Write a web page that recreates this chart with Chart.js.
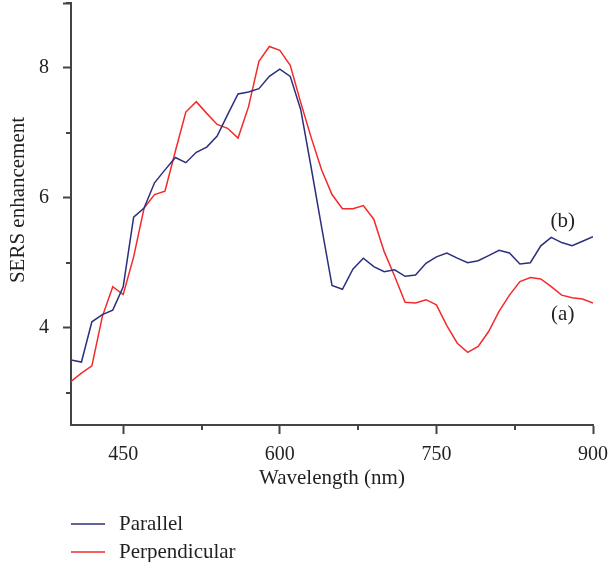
<!DOCTYPE html>
<html><head><meta charset="utf-8">
<script src="https://cdn.jsdelivr.net/npm/chart.js@4.4.1/dist/chart.umd.min.js"></script>
<style>html,body{margin:0;padding:0;background:#fff;} canvas{display:block;}</style>
</head><body>
<canvas id="c" width="608" height="562"></canvas>
<script>
const WAVELENGTHS = [400,410,420,430,440,450,460,470,480,490,500,510,520,530,540,550,560,570,580,590,600,610,620,630,640,650,660,670,680,690,700,710,720,730,740,750,760,770,780,790,800,810,820,830,840,850,860,870,880,890,900];
const PARALLEL = [3.50,3.47,4.09,4.20,4.27,4.63,5.70,5.84,6.23,6.43,6.62,6.54,6.70,6.78,6.95,7.28,7.60,7.63,7.68,7.87,7.98,7.87,7.36,6.47,5.55,4.65,4.59,4.90,5.07,4.94,4.86,4.89,4.79,4.81,4.99,5.09,5.15,5.07,5.00,5.03,5.11,5.19,5.15,4.98,5.00,5.26,5.39,5.31,5.26,5.33,5.40];
const PERPENDICULAR = [3.17,3.30,3.41,4.17,4.63,4.51,5.09,5.84,6.05,6.10,6.72,7.32,7.48,7.30,7.13,7.07,6.92,7.40,8.10,8.33,8.27,8.04,7.47,6.93,6.43,6.05,5.83,5.83,5.88,5.67,5.17,4.79,4.39,4.38,4.43,4.35,4.03,3.76,3.62,3.71,3.94,4.25,4.50,4.71,4.77,4.75,4.63,4.50,4.46,4.44,4.38];
const SERIES_NAMES = ['Parallel','Perpendicular'];
const X_TICKS = [450,525,600,675,750,825,900];
const X_LABELED = [450,600,750,900];
const Y_TICKS = [3,4,5,6,7,8,9];
const Y_LABELED = [4,6,8];
const CURVE_TAGS = ['(b)','(a)'];
const CURVE_TAG_X = [871,871];
const CURVE_TAG_Y = [5.63,4.20];

const FONT = "'Liberation Serif', 'Times New Roman', serif";
const AXIS = '#444444';
const TEXT = '#231f20';
const COLORS = ['#2c2f7c','#f42a2a'];

const extras = {
  id: 'extras',
  afterDraw(chart) {
    const ctx = chart.ctx;
    const xs = chart.scales.x, ys = chart.scales.y;
    const area = chart.chartArea;
    ctx.save();
    ctx.strokeStyle = AXIS; ctx.lineWidth = 2;
    X_TICKS.filter(v => !X_LABELED.includes(v)).forEach(v => {
      const p = Math.round(xs.getPixelForValue(v));
      ctx.beginPath(); ctx.moveTo(p, area.bottom); ctx.lineTo(p, area.bottom + 5); ctx.stroke();
    });
    Y_TICKS.filter(v => !Y_LABELED.includes(v)).forEach(v => {
      const p = Math.round(ys.getPixelForValue(v));
      ctx.beginPath(); ctx.moveTo(area.left, p); ctx.lineTo(area.left - 5, p); ctx.stroke();
    });
    ctx.fillStyle = TEXT;
    ctx.font = '21px ' + FONT;
    ctx.textAlign = 'center'; ctx.textBaseline = 'middle';
    CURVE_TAGS.forEach((t, i) => {
      ctx.fillText(t, xs.getPixelForValue(CURVE_TAG_X[i]), ys.getPixelForValue(CURVE_TAG_Y[i]));
    });
    ctx.save();
    ctx.translate(18, 200);
    ctx.rotate(-Math.PI / 2);
    ctx.fillText('SERS enhancement', 0, 0);
    ctx.restore();
    ctx.textAlign = 'left';
    chart.data.datasets.forEach((ds, i) => {
      const y = 524 + i * 28;
      ctx.strokeStyle = ds.borderColor; ctx.lineWidth = 1.5;
      ctx.beginPath(); ctx.moveTo(71, y); ctx.lineTo(105, y); ctx.stroke();
      ctx.fillStyle = TEXT;
      ctx.fillText(ds.label, 119, y);
    });
    ctx.restore();
  }
};

new Chart(document.getElementById('c'), {
  type: 'line',
  data: {
    datasets: [PARALLEL, PERPENDICULAR].map((arr, i) => ({
      label: SERIES_NAMES[i],
      data: WAVELENGTHS.map((w, j) => ({x: w, y: arr[j]})),
      borderColor: COLORS[i],
      borderWidth: 1.5,
      pointRadius: 0,
      tension: 0,
      fill: false
    }))
  },
  options: {
    responsive: false,
    devicePixelRatio: 1,
    animation: false,
    layout: {padding: {top: 3, right: 15, bottom: 0, left: 0}},
    plugins: {legend: {display: false}, tooltip: {enabled: false}},
    scales: {
      x: {
        type: 'linear', min: 400, max: 900,
        afterBuildTicks: s => { s.ticks = X_TICKS.map(v => ({value: v})); },
        afterFit: s => { s.height = 137; s.paddingLeft = 0; s.paddingRight = 0; },
        grid: {drawOnChartArea: false, tickLength: 9, tickWidth: 2,
               tickColor: c => X_LABELED.includes(c.tick && c.tick.value) ? AXIS : 'rgba(0,0,0,0)'},
        border: {color: AXIS, width: 2},
        ticks: {autoSkip: false, maxRotation: 0, padding: 9, color: TEXT,
                font: {family: FONT, size: 20},
                callback: v => X_LABELED.includes(v) ? String(v) : ''},
        title: {display: true, text: 'Wavelength (nm)', color: TEXT,
                font: {family: FONT, size: 21}, padding: {top: 0, bottom: 71}}
      },
      y: {
        type: 'linear', min: 2.5, max: 9,
        afterBuildTicks: s => { s.ticks = Y_TICKS.map(v => ({value: v})); },
        afterFit: s => { s.width = 71; s.paddingTop = 0; s.paddingBottom = 0; },
        grid: {drawOnChartArea: false, tickLength: 8, tickWidth: 2,
               tickColor: c => Y_LABELED.includes(c.tick && c.tick.value) || (c.tick && c.tick.value === 9) ? AXIS : 'rgba(0,0,0,0)'},
        border: {color: AXIS, width: 2},
        ticks: {padding: 14, color: TEXT, font: {family: FONT, size: 20},
                callback: v => Y_LABELED.includes(v) ? String(v) : ''}
      }
    }
  },
  plugins: [extras]
});
</script>
</body></html>
